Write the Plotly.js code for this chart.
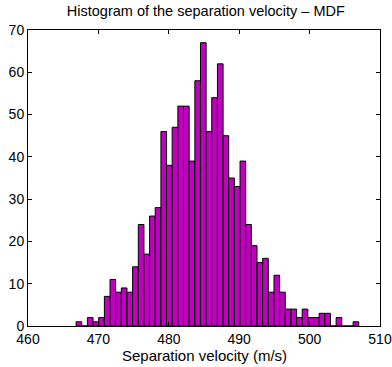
<!DOCTYPE html>
<html>
<head>
<meta charset="utf-8">
<script src="https://cdn.plot.ly/plotly-3.0.1.min.js"></script>
<style>html,body{margin:0;padding:0;background:#fff;}#chart{width:392px;height:367px;}</style>
</head>
<body>
<div id="chart"></div>
<script>
// Bin centers (m/s)
const binCenters = [467.23, 468.04, 468.84, 469.64, 470.44, 471.25, 472.05, 472.85, 473.66, 474.46,
  475.26, 476.07, 476.87, 477.67, 478.47, 479.28, 480.08, 480.88, 481.69, 482.49,
  483.29, 484.10, 484.90, 485.70, 486.50, 487.31, 488.11, 488.91, 489.72, 490.52,
  491.32, 492.13, 492.93, 493.73, 494.53, 495.34, 496.14, 496.94, 497.75, 498.55,
  499.35, 500.16, 500.96, 501.76, 502.56, 503.37, 504.17, 504.97, 505.78, 506.58];
// Counts per bin
const counts = [1, 0, 2, 1, 2, 7, 11, 8, 9, 8,
  14, 24, 17, 26, 28, 46, 38, 47, 52, 52,
  39, 58, 67, 46, 54, 62, 45, 35, 33, 39,
  24, 19, 15, 16, 8, 12, 8, 4, 4, 2,
  4, 2, 2, 3, 3, 0, 2, 0, 0, 1];
const xTicks = [460, 470, 480, 490, 500, 510];
const yTicks = [0, 10, 20, 30, 40, 50, 60, 70];

const fam = 'Liberation Sans, Arial, sans-serif';

Plotly.newPlot('chart', [{
  type: 'bar',
  x: binCenters,
  y: counts,
  marker: {color: '#BF00BF', line: {color: '#000', width: 1}},
  hoverinfo: 'x+y'
}], {
  width: 392, height: 367,
  margin: {l: 28, r: 12, t: 30, b: 41, pad: 0},
  paper_bgcolor: '#fff', plot_bgcolor: '#fff',
  font: {family: fam, size: 14, color: '#000'},
  bargap: 0,
  showlegend: false,
  title: {text: 'Histogram of the separation velocity \u2013 MDF', font: {family: fam, size: 14.5, color: '#000'}, x: 0.525, xanchor: 'center', y: 0.985, yanchor: 'top'},
  xaxis: {
    range: [460, 510], tickvals: xTicks, ticktext: xTicks.map(String),
    ticks: 'inside', ticklen: 4, tickcolor: '#000', showgrid: false, zeroline: false,
    showline: true, linecolor: '#000', linewidth: 1, mirror: 'ticks',
    tickfont: {family: fam, size: 14, color: '#000'}
  },
  yaxis: {
    range: [0, 70], tickvals: yTicks, ticktext: yTicks.map(String),
    ticks: 'inside', ticklen: 4, tickcolor: '#000', showgrid: false, zeroline: false,
    showline: true, linecolor: '#000', linewidth: 1, mirror: 'ticks',
    tickfont: {family: fam, size: 14, color: '#000'}
  },
  annotations: [{
    text: 'Separation velocity (m/s)', showarrow: false,
    xref: 'paper', yref: 'paper', x: 0.5, y: -0.1, xanchor: 'center', yanchor: 'middle',
    font: {family: fam, size: 15, color: '#000'}
  }]
}, {displayModeBar: false, staticPlot: true});
</script>
</body>
</html>
